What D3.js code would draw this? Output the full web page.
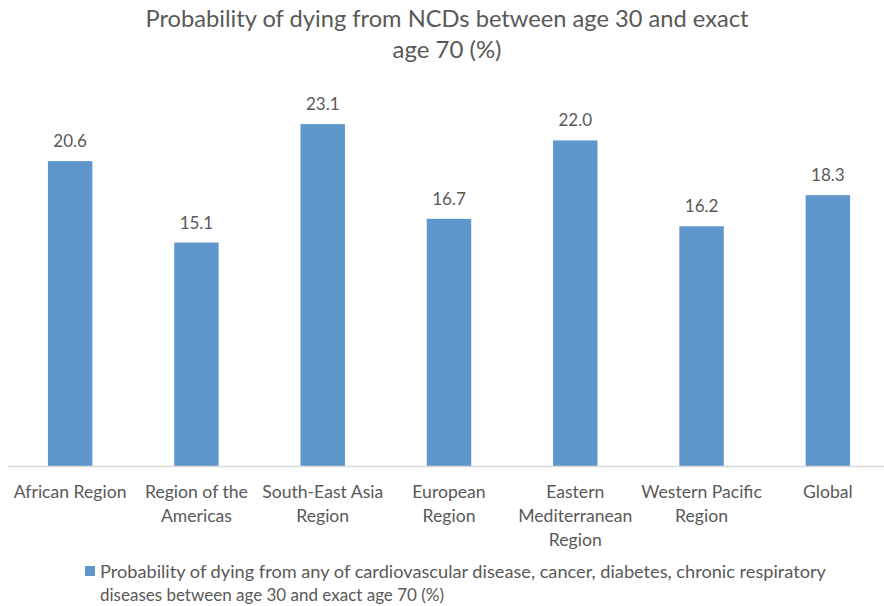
<!DOCTYPE html>
<html>
<head>
<meta charset="utf-8">
<script src="https://cdn.jsdelivr.net/npm/d3@7/dist/d3.min.js"></script>
<style>
  html, body { margin: 0; padding: 0; background: #fff; }
  svg { display: block; }
  text { font-family: Lato, "Open Sans", sans-serif; fill: #595959; }
</style>
</head>
<body>
<svg id="chart" width="884" height="606"></svg>
<script>
const categories = ["African Region", "Region of the Americas", "South-East Asia Region", "European Region", "Eastern Mediterranean Region", "Western Pacific Region", "Global"];
const categoryLines = [["African Region"], ["Region of the", "Americas"], ["South-East Asia", "Region"], ["European", "Region"], ["Eastern", "Mediterranean", "Region"], ["Western Pacific", "Region"], ["Global"]];
const values = [20.6, 15.1, 23.1, 16.7, 22.0, 16.2, 18.3];
const titleLines = ["Probability of dying from NCDs between age 30 and exact", "age 70 (%)"];
const legendLines = ["Probability of dying from any of cardiovascular disease, cancer, diabetes, chronic respiratory", "diseases between age 30 and exact age 70 (%)"];
const yDomain = [0, 25];

const svg = d3.select("#chart");
const barColor = "#5f97cd";

const x = d3.scaleBand().domain(categories).range([7, 891]).paddingInner(0.648).paddingOuter(0.324);
const y = d3.scaleLinear().domain(yDomain).range([466, 96]);

// title
const titleG = svg.append("g");
const titleWidths = [603, null];
titleLines.forEach((t, i) => {
  const el = titleG.append("text")
    .attr("x", 447).attr("y", 27 + i * 31)
    .attr("text-anchor", "middle")
    .attr("font-size", 24)
    .text(t);
  if (titleWidths[i]) el.attr("textLength", titleWidths[i]).attr("lengthAdjust", "spacingAndGlyphs");
});

// bars
svg.append("g").selectAll("rect").data(values).join("rect")
  .attr("x", (d, i) => x(categories[i]))
  .attr("width", x.bandwidth())
  .attr("y", d => y(d))
  .attr("height", d => y(0) - y(d))
  .attr("fill", barColor);

// axis line
const xAxis = d3.axisBottom(x).tickSize(0).tickFormat("");
const axG = svg.append("g").attr("transform", `translate(0,${y(0)})`).call(xAxis);
axG.select(".domain").attr("stroke", "#d9d9d9").attr("stroke-width", 1.5);

// category labels
const lab = svg.append("g");
categories.forEach((c, i) => {
  const cx = x(c) + x.bandwidth() / 2;
  categoryLines[i].forEach((ln, j) => {
    lab.append("text")
      .attr("x", cx).attr("y", 498 + j * 24)
      .attr("text-anchor", "middle")
      .attr("font-size", 17.6)
      .text(ln);
  });
});

// data labels
svg.append("g").selectAll("text").data(values).join("text")
  .attr("x", (d, i) => x(categories[i]) + x.bandwidth() / 2)
  .attr("y", d => y(d) - 14)
  .attr("text-anchor", "middle")
  .attr("font-size", 17)
  .text(d => d3.format(".1f")(d));

// legend
const lg = svg.append("g");
lg.append("rect").attr("x", 85).attr("y", 566).attr("width", 10).attr("height", 10).attr("fill", barColor);
const legendWidths = [726, null];
legendLines.forEach((t, i) => {
  const el = lg.append("text")
    .attr("x", 100).attr("y", 578 + i * 23)
    .attr("font-size", 17)
    .text(t);
  if (legendWidths[i]) el.attr("textLength", legendWidths[i]).attr("lengthAdjust", "spacingAndGlyphs");
});
</script>
</body>
</html>
